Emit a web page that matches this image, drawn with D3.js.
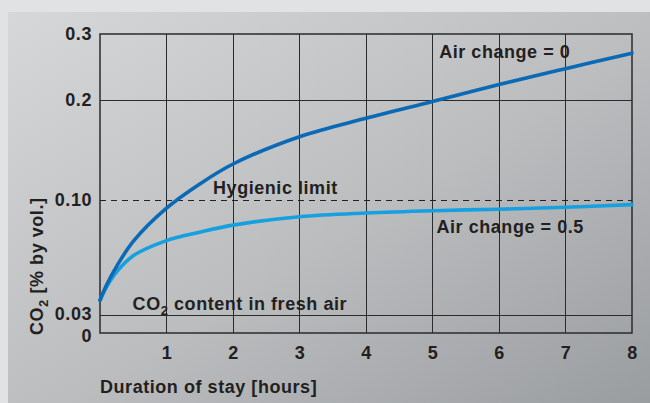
<!DOCTYPE html>
<html>
<head>
<meta charset="utf-8">
<script src="https://cdn.jsdelivr.net/npm/d3@7"></script>
<style>
  body { margin: 0; background: #e1e2e4; }
  svg text { font-family: "Liberation Sans", Arial, sans-serif; font-weight: bold; fill: #231f20; letter-spacing: 0.55px; }
</style>
</head>
<body>
<div id="chart"></div>
<script>
// data
var hours = [0, 0.1, 0.25, 0.5, 1, 1.5, 2, 3, 4, 5, 6, 7, 8];
var airChange0 = [0.039, 0.0484, 0.0596, 0.0748, 0.095, 0.116, 0.136, 0.1633, 0.1817, 0.1985, 0.2234, 0.2475, 0.271];
var airChange05 = [0.039, 0.0472, 0.0563, 0.0661, 0.0753, 0.0804, 0.0847, 0.0898, 0.0921, 0.0935, 0.0944, 0.0956, 0.0972];
var xTicks = [1, 2, 3, 4, 5, 6, 7, 8];
var yTicks = [0, 0.03, 0.10, 0.2, 0.3];
var yTickLabels = ["0", "0.03", "0.10", "0.2", "0.3"];
var hygienicLimit = 0.1;
var freshAir = 0.03;

var margins = {top: 34, right: 18, bottom: 70, left: 100},
    width = 650 - margins.left - margins.right,
    height = 403 - margins.top - margins.bottom;

var svgRoot = d3.select("#chart").append("svg")
    .attr("width", 650)
    .attr("height", 403);

// background panel with a soft diagonal gradient
var defs = svgRoot.append("defs");
var grad = defs.append("linearGradient")
    .attr("id", "panelGrad")
    .attr("x1", "0%").attr("y1", "0%")
    .attr("x2", "100%").attr("y2", "100%");
grad.append("stop").attr("offset", "0%").attr("stop-color", "#d6d7d8");
grad.append("stop").attr("offset", "55%").attr("stop-color", "#babcbe");
grad.append("stop").attr("offset", "100%").attr("stop-color", "#9a9da0");

svgRoot.append("rect")
    .attr("x", 8).attr("y", 12)
    .attr("width", 650 - 8).attr("height", 403 - 12)
    .style("fill", "url(#panelGrad)");

var svg = svgRoot.append("g")
    .attr("transform", "translate(" + margins.left + "," + margins.top + ")");

var x = d3.scaleLinear()
    .domain([0, 8])
    .range([0, width]);

// the value axis of the original is stretched piece by piece
var y = d3.scaleLinear()
    .domain([0, 0.03, 0.1, 0.2, 0.3])
    .range([height, height - 18, height - 133, height - 233, 0]);

// vertical grid
svg.selectAll("line.vgrid")
    .data(xTicks.slice(0, -1))
    .enter().append("line")
    .attr("class", "vgrid")
    .attr("x1", d => x(d)).attr("x2", d => x(d))
    .attr("y1", 0).attr("y2", height)
    .style("stroke", "#2b2b2b")
    .style("stroke-width", 1)
    .style("shape-rendering", "crispEdges");

// horizontal solid lines
svg.selectAll("line.hgrid")
    .data([freshAir, 0.2])
    .enter().append("line")
    .attr("class", "hgrid")
    .attr("x1", 0).attr("x2", width)
    .attr("y1", d => y(d)).attr("y2", d => y(d))
    .style("stroke", "#2b2b2b")
    .style("stroke-width", 1)
    .style("shape-rendering", "crispEdges");

// hygienic limit
svg.append("line")
    .attr("x1", 0).attr("x2", width)
    .attr("y1", y(hygienicLimit)).attr("y2", y(hygienicLimit))
    .style("stroke", "#222")
    .style("stroke-width", 1)
    .style("stroke-dasharray", "6 5")
    .style("shape-rendering", "crispEdges");

// frame
svg.append("rect")
    .attr("x", 0).attr("y", 0)
    .attr("width", width).attr("height", height)
    .style("fill", "none")
    .style("stroke", "#2b2b2b")
    .style("stroke-width", 1.5);

// axes
var xAxis = d3.axisBottom(x).tickValues(xTicks).tickSize(0).tickPadding(13);
svg.append("g")
    .attr("class", "x axis")
    .attr("transform", "translate(0," + height + ")")
    .call(xAxis)
    .call(g => g.select(".domain").remove())
    .selectAll("text")
    .style("font-size", "18px");

var yAxis = d3.axisLeft(y).tickValues(yTicks).tickSize(0).tickPadding(8)
    .tickFormat((d, i) => yTickLabels[i]);
svg.append("g")
    .attr("class", "y axis")
    .call(yAxis)
    .call(g => g.select(".domain").remove())
    .selectAll("text")
    .style("font-size", "18px")
    .attr("y", d => d === 0 ? 3 : (d === 0.03 ? -1 : 0));

svg.selectAll(".axis text").style("fill", "#231f20").style("font-family", null);

// curves
var line = d3.line()
    .x((d, i) => x(hours[i]))
    .y(d => y(d))
    .curve(d3.curveCatmullRom.alpha(0.5));

svg.append("path")
    .datum(airChange05)
    .attr("d", line)
    .style("fill", "none")
    .style("stroke", "#16a0e0")
    .style("stroke-width", 3.6)
    .style("stroke-linecap", "round");

svg.append("path")
    .datum(airChange0)
    .attr("d", line)
    .style("fill", "none")
    .style("stroke", "#0b6ab6")
    .style("stroke-width", 3.6)
    .style("stroke-linecap", "round");

// labels
function label(txt, hx, val, dy) {
    return svg.append("text")
        .attr("x", x(hx))
        .attr("y", y(val) + dy)
        .style("font-size", "18px")
        .text(txt);
}
label("Air change = 0", 5.1, 0.3, 24);
label("Hygienic limit", 1.7, hygienicLimit, -6);
label("Air change = 0.5", 5.06, hygienicLimit, 33);

var fresh = svg.append("text")
    .attr("x", x(0.49))
    .attr("y", y(freshAir) - 5)
    .style("font-size", "18px");
fresh.append("tspan").text("CO");
fresh.append("tspan").attr("dy", 5).style("font-size", "13px").text("2");
fresh.append("tspan").attr("dy", -5).text(" content in fresh air");

// axis titles
svg.append("text")
    .attr("x", 0)
    .attr("y", height + 60)
    .style("font-size", "18px")
    .text("Duration of stay [hours]");

var yTitle = svg.append("text")
    .attr("transform", "translate(" + (-57) + "," + (height + 2) + ") rotate(-90)")
    .style("font-size", "18px");
yTitle.append("tspan").text("CO");
yTitle.append("tspan").attr("dy", 5).style("font-size", "13px").text("2");
yTitle.append("tspan").attr("dy", -5).text(" [% by vol.]");
</script>
</body>
</html>
